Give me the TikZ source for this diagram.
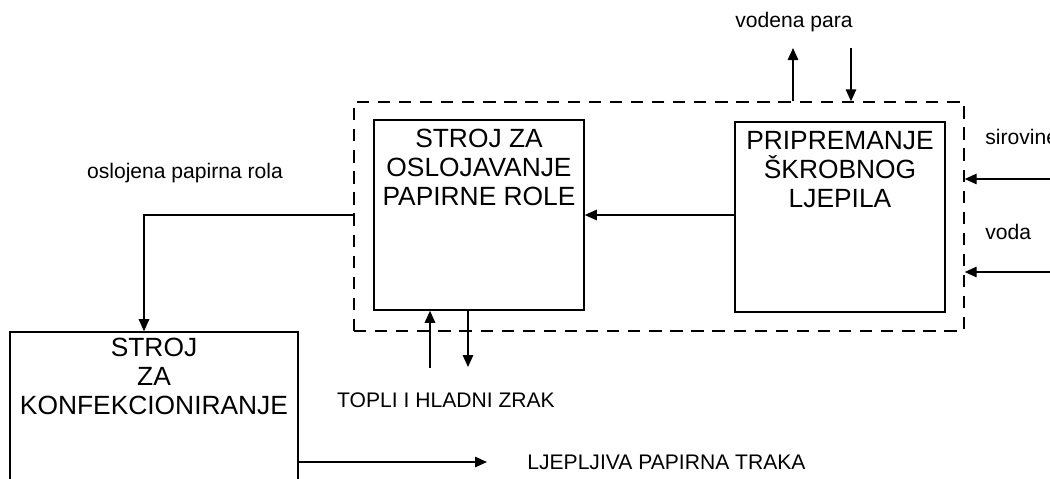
\documentclass[tikz,border=0pt]{standalone}
\usepackage{fontspec}
\setmainfont{Liberation Sans}
\usepackage{tikz}
\usetikzlibrary{arrows.meta, positioning, calc}

\begin{document}
\begin{tikzpicture}[
  unit/.style={rectangle, draw, line width=0.9pt,
    minimum width=4.2cm, minimum height=3.8cm},
  unittxt/.style={font=\fontsize{15}{16.5}\selectfont,
    align=center, inner sep=5.5pt},
  plantbox/.style={rectangle, draw, line width=0.8pt,
    dash pattern=on 7pt off 5pt,
    minimum width=12.2cm, minimum height=4.58cm},
  note/.style={font=\fontsize{12}{14}\selectfont, inner sep=0pt},
  flow/.style={line width=0.8pt,
    -{Triangle[length=2.4mm,width=2.1mm]}}
]
\useasboundingbox (0,0) rectangle (21,-9.58);

% Plant boundary (dashed)
\node[plantbox] (plant) at (13.18,-4.33) {};

% Coating machine
\node[unit, label={[unittxt, anchor=north]north:%
  STROJ ZA\\OSLOJAVANJE\\PAPIRNE ROLE}] (coat) at (9.58,-4.30) {};

% Glue preparation
\node[unit, label={[unittxt, anchor=north]north:%
  PRIPREMANJE\\ŠKROBNOG\\LJEPILA}] (glue) at (16.8,-4.34) {};

% Converting machine
\node[unit, minimum width=5.76cm, minimum height=3.36cm,
  label={[unittxt, inner sep=3.5pt, anchor=north]north:%
  STROJ\\ZA\\KONFEKCIONIRANJE}] (conf) at (3.08,-8.32) {};

% Labels
\node[note] (steam) at (15.88,-0.44) {vodena para};
\node[note, anchor=west] (raw) at (19.7,-2.74) {sirovine};
\node[note, anchor=west] (water) at (19.7,-4.64) {voda};
\node[note] (roll) at (3.7,-3.46) {oslojena papirna rola};
\node[note] (air) at (8.92,-8.0) {TOPLI I HLADNI ZRAK};
\node[note, anchor=west] (tape) at (10.54,-9.24) {LJEPLJIVA PAPIRNA TRAKA};

% Free ends
\coordinate (steamout) at (15.86,-0.96);
\coordinate (steamin) at (17.02,-0.96);
\coordinate (rawin) at (21.1,-3.58);
\coordinate (waterin) at (21.1,-5.44);
\coordinate (airin) at (8.6,-7.36);
\coordinate (airout) at (9.36,-7.34);

% Arrows
\draw[flow] (glue.west |- coat.east) -- (coat.east);
\draw[flow] (steamout |- plant.north) -- (steamout);
\draw[flow] (steamin) -- (steamin |- plant.north);
\draw[flow] (rawin) -- (rawin -| plant.east);
\draw[flow] (waterin) -- (waterin -| plant.east);
\draw[flow] (airin) -- (airin |- coat.south);
\draw[flow] (airout |- coat.south) -- (airout);
\draw[flow] (plant.west |- coat.east) -| ([xshift=-0.2cm]conf.north);
\draw[flow] (conf.east |- tape.west) -- ([xshift=-0.8cm]tape.west);
\end{tikzpicture}
\end{document}
